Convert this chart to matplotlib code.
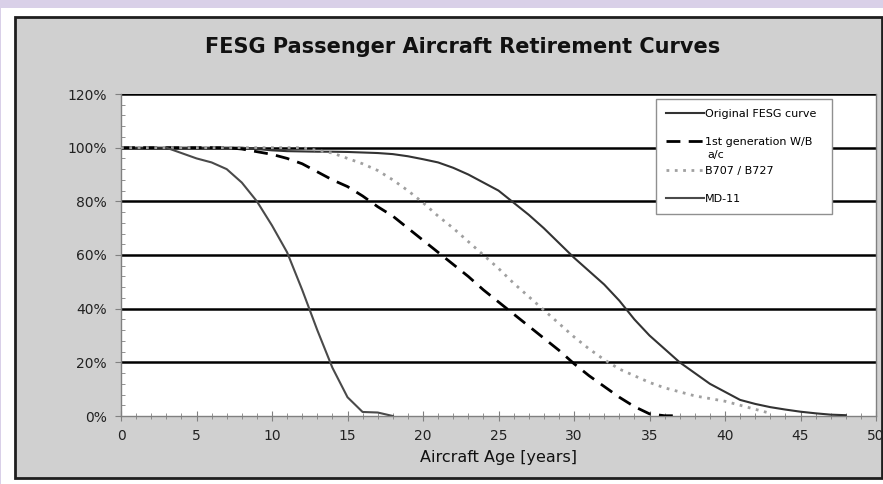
import matplotlib.pyplot as plt
from matplotlib.patches import Rectangle
from matplotlib.ticker import MultipleLocator, FuncFormatter

# curve data (age in years, share still in service in %)
orig_age = [0, 1, 2, 3, 4, 5, 6, 7, 8, 9, 10, 11, 12, 13, 14, 15, 16, 17, 18, 19, 20,
            21, 22, 23, 24, 25, 26, 27, 28, 29, 30, 31, 32, 33, 34, 35, 36, 37, 38, 39,
            40, 41, 42, 43, 44, 45, 46, 47, 48]
orig_val = [100, 100, 100, 100, 100, 100, 100, 100, 100, 99.5, 99, 98.7, 98.6, 98.5, 98.5,
            98.4, 98.2, 98, 97.6, 96.8, 95.7, 94.5, 92.5, 90, 87, 84, 79.5, 75, 70, 64.5,
            59, 54, 49, 43, 36, 30, 25, 20, 16, 12, 9, 6, 4.5, 3.3, 2.4, 1.6, 1, 0.5, 0.3]

wb_age = [0, 1, 2, 3, 4, 5, 6, 7, 8, 9, 10, 11, 12, 13, 14, 15, 16, 17, 18, 19, 20,
          21, 22, 23, 24, 25, 26, 27, 28, 29, 30, 31, 32, 33, 34, 35, 36, 37]
wb_val = [100, 100, 100, 100, 100, 100, 100, 100, 99.5, 98.5, 97.5, 96, 94, 91, 88, 85.5,
          82, 78, 74.5, 70, 65.5, 61, 56.5, 52, 47, 42.5, 38, 33.5, 29, 24.5, 19.5, 15,
          11, 7, 3.5, 0.8, 0.1, 0.1]

b707_age = [0, 1, 2, 3, 4, 5, 6, 7, 8, 9, 10, 11, 12, 13, 14, 15, 16, 17, 18, 19, 20,
            21, 22, 23, 24, 25, 26, 27, 28, 29, 30, 31, 32, 33, 34, 35, 36, 37, 38, 39,
            40, 41, 42, 43]
b707_val = [100, 100, 100, 100, 100, 100, 100, 100, 100, 100, 100, 100, 100, 99, 98, 96,
            94, 91.5, 88, 84, 79.5, 74.5, 70, 65, 60, 55, 49.5, 44.5, 39.5, 34.5, 29.5,
            25, 21, 17.5, 15, 12.5, 10.5, 9, 7.5, 6.5, 5.5, 4, 2.5, 1]

md11_age = [3, 4, 5, 6, 7, 8, 9, 10, 11, 12, 13, 14, 15, 16, 17, 18]
md11_val = [100, 98, 96, 94.5, 92, 87, 80, 71, 61, 47, 32, 18, 7, 1.5, 1.3, 0]

labels = ['Original FESG curve', '1st generation W/B', 'B707 / B727', 'MD-11']

W, H = 883, 484
plt.rcParams['font.family'] = ['DejaVu Sans']
fig = plt.figure(figsize=(W / 100, H / 100), dpi=100, facecolor='#d9d0e8')

# white frame and grey chart area with dark border (behind the axes)
fig.patches.append(Rectangle((1 / W, 0), 1, 1 - 8 / H, transform=fig.transFigure,
                             facecolor='white', edgecolor='none', zorder=-2))
fig.patches.append(Rectangle((15 / W, 1 - 478 / H), (882 - 15) / W, (478 - 17) / H,
                             transform=fig.transFigure, facecolor='#d0d0d0',
                             edgecolor='#1e1e1e', linewidth=2, zorder=-1))

ax = fig.add_axes([121 / W, 1 - 416 / H, (876 - 121) / W, (416 - 94) / H])
ax.set_facecolor('white')

ax.plot(orig_age, orig_val, color='#333333', linewidth=1.5, label=labels[0], zorder=4)
ax.plot(wb_age, wb_val, color='black', linewidth=2, linestyle=(0, (5, 3)),
        label=labels[1], zorder=4)
ax.plot(b707_age, b707_val, color='#a0a0a0', linewidth=2, linestyle=(0, (1, 2)),
        label=labels[2], zorder=4)
ax.plot(md11_age, md11_val, color='#4a4a4a', linewidth=1.5, label=labels[3], zorder=4)

ax.set_xlim(0, 50)
ax.set_ylim(0, 120)
ax.xaxis.set_major_locator(MultipleLocator(5))
ax.xaxis.set_minor_locator(MultipleLocator(1))
ax.yaxis.set_major_locator(MultipleLocator(20))
ax.yaxis.set_minor_locator(MultipleLocator(4))
ax.yaxis.set_major_formatter(FuncFormatter(lambda v, p: '%d%%' % v))

# black horizontal grid lines
for g in [20, 40, 60, 80, 100, 120]:
    ax.axhline(g, color='black', linewidth=1.8, zorder=2)

for s in ['left', 'bottom', 'right']:
    ax.spines[s].set_color('#808080')
    ax.spines[s].set_linewidth(1)
ax.spines['top'].set_visible(False)

ax.tick_params(axis='both', which='major', labelsize=10, colors='#808080',
               labelcolor='#222222')
ax.tick_params(axis='x', which='major', direction='inout', length=7, pad=6)
ax.tick_params(axis='x', which='minor', direction='inout', length=4, colors='#808080')
ax.tick_params(axis='y', which='major', direction='out', length=4, pad=6)
ax.tick_params(axis='y', which='minor', direction='in', length=3, colors='#808080')

ax.set_xlabel('Aircraft Age [years]', fontsize=11.5, color='#111111', labelpad=5)
fig.text(463 / W, 1 - 47 / H, 'FESG Passenger Aircraft Retirement Curves',
         fontsize=15, fontweight='bold', ha='center', va='center', color='#111111')

# legend box: top-left at (656, 99) px, 176 px wide
leg = ax.legend(loc='upper left', bbox_to_anchor=(656 / W, 1 - 99 / H, 176 / W, 0),
                bbox_transform=fig.transFigure, mode='expand', fontsize=8,
                frameon=True, fancybox=False, framealpha=1, edgecolor='#909090',
                handlelength=3.4, handletextpad=0.1, labelspacing=1.65,
                borderpad=0.9, borderaxespad=0)
leg.get_frame().set_linewidth(1)
leg.set_zorder(5)
fig.text(707 / W, 1 - 155 / H, 'a/c', fontsize=8, ha='left', va='center', zorder=6)

plt.savefig('out.png', dpi=100, facecolor=fig.get_facecolor())
